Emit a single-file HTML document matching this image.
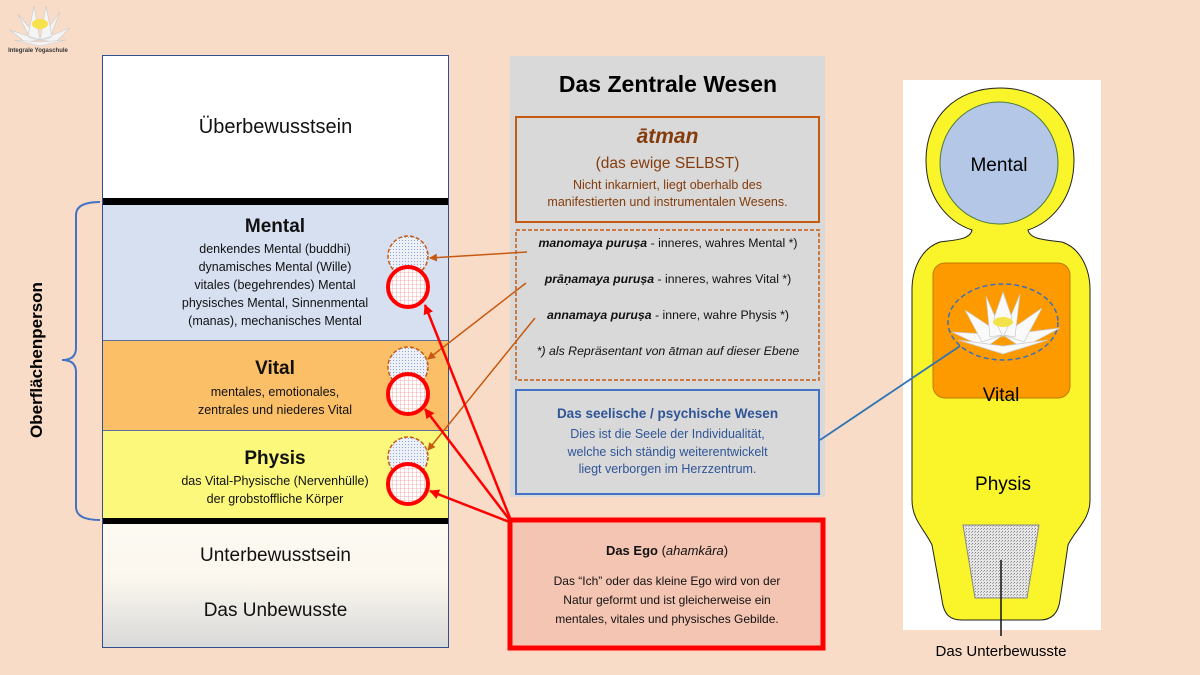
<!DOCTYPE html>
<html><head><meta charset="utf-8"><style>
*{margin:0;padding:0;box-sizing:border-box}
body{width:1200px;height:675px;background:#f9dcc7;position:relative;overflow:hidden;font-family:"Liberation Sans",sans-serif;color:#111}
.a{position:absolute}
.c{text-align:center}
</style></head><body>
<!-- logo -->
<svg class="a" style="left:0;top:0" width="110" height="60">
<g fill="#f4f4f4" stroke="#c9c9c9" stroke-width="0.6">
<path d="M40 40 L10 30 L25 42 Z"/><path d="M40 40 L70 28 L56 42 Z"/>
<path d="M40 40 L18 14 L30 38 Z"/><path d="M40 40 L60 12 L50 38 Z"/>
<path d="M40 40 L34 6 L28 36 Z"/><path d="M40 40 L46 6 L52 36 Z"/>
<path d="M40 42 L14 40 L40 46 L66 40 Z"/>
</g>
<ellipse cx="40" cy="24" rx="8" ry="5" fill="#f6e24a"/>
<text x="38" y="52" font-size="6" text-anchor="middle" font-weight="bold" fill="#333">Integrale Yogaschule</text>
</svg>

<!-- left column -->
<div class="a" style="left:102px;top:55px;width:347px;height:593px;border:1px solid #2f4f8f;background:#fff"></div>
<div class="a c" style="left:103px;top:56px;width:345px;height:142px;background:#fff;font-size:20px;line-height:142px">Überbewusstsein</div>
<div class="a" style="left:103px;top:198px;width:345px;height:7px;background:#000"></div>
<div class="a c" style="left:103px;top:205px;width:345px;height:136px;background:#d7e0f1;border-bottom:1px solid #5a6f9a"></div>
<div class="a c" style="left:103px;top:341px;width:345px;height:90px;background:#fbbf68;border-bottom:1px solid #5a6f9a"></div>
<div class="a c" style="left:103px;top:431px;width:345px;height:87px;background:#fbf87b"></div>
<div class="a" style="left:103px;top:518px;width:345px;height:6px;background:#000"></div>
<div class="a" style="left:103px;top:524px;width:345px;height:123px;background:linear-gradient(#fdfaf3 0%,#fbf7ee 45%,#d9d9d9 100%)"></div>
<div class="a c" style="left:103px;top:545px;width:345px;font-size:19px">Unterbewusstsein</div>
<div class="a c" style="left:103px;top:600px;width:345px;font-size:19px">Das Unbewusste</div>

<div class="a c" style="left:130px;top:216px;width:290px;font-size:19px;font-weight:bold">Mental</div>
<div class="a c" style="left:130px;top:240px;width:290px;font-size:12.5px;line-height:18px">denkendes Mental (buddhi)<br>dynamisches Mental (Wille)<br>vitales (begehrendes) Mental<br>physisches Mental, Sinnenmental<br>(manas), mechanisches Mental</div>
<div class="a c" style="left:130px;top:358px;width:290px;font-size:19px;font-weight:bold">Vital</div>
<div class="a c" style="left:130px;top:383px;width:290px;font-size:12.5px;line-height:18px">mentales, emotionales,<br>zentrales und niederes Vital</div>
<div class="a c" style="left:130px;top:448px;width:290px;font-size:19px;font-weight:bold">Physis</div>
<div class="a c" style="left:130px;top:472px;width:290px;font-size:12.5px;line-height:18px">das Vital-Physische (Nervenhülle)<br>der grobstoffliche Körper</div>

<svg class="a" style="left:0;top:0" width="1200" height="675">
<defs>
<pattern id="g" width="4" height="4" patternUnits="userSpaceOnUse"><rect width="4" height="4" fill="#fff"/><path d="M0 0H4M0 0V4" stroke="#f09a9a" stroke-width="0.8"/></pattern>
<pattern id="d" width="3" height="3" patternUnits="userSpaceOnUse"><rect width="3" height="3" fill="#eef0f8"/><rect width="1" height="1" fill="#8fa5d8"/></pattern>
<pattern id="s" width="3" height="3" patternUnits="userSpaceOnUse"><rect width="3" height="3" fill="#e6e6e6"/><rect width="1" height="1" fill="#888"/><rect x="2" y="1" width="1" height="1" fill="#aaa"/></pattern>
<marker id="ab" markerWidth="8" markerHeight="8" refX="7" refY="4" orient="auto" markerUnits="userSpaceOnUse"><path d="M0 0L8 4L0 8Z" fill="#c55a11"/></marker>
<marker id="ar" markerWidth="10" markerHeight="10" refX="9" refY="5" orient="auto" markerUnits="userSpaceOnUse"><path d="M0 0L10 5L0 10Z" fill="#f00"/></marker>
</defs>
<path d="M100 202 Q76 202 76 215 L76 348 Q76 360 62 360 Q76 360 76 372 L76 507 Q76 520 100 520" fill="none" stroke="#4472c4" stroke-width="2"/>
<text transform="translate(42 360) rotate(-90)" text-anchor="middle" font-size="17" font-weight="bold">Oberflächenperson</text>

<g stroke="#c55a11" stroke-width="1.5" stroke-dasharray="4 2">
<circle cx="408" cy="256" r="20" fill="url(#d)"/>
<circle cx="408" cy="367" r="20" fill="url(#d)"/>
<circle cx="408" cy="457" r="20" fill="url(#d)"/>
</g>
<g stroke="#f00" stroke-width="4">
<circle cx="408" cy="287" r="20" fill="url(#g)"/>
<circle cx="408" cy="394" r="20" fill="url(#g)"/>
<circle cx="408" cy="484" r="20" fill="url(#g)"/>
</g>

<rect x="510" y="56" width="315" height="441" fill="#d9d9d9"/>
<text x="668" y="92" text-anchor="middle" font-size="23" font-weight="bold">Das Zentrale Wesen</text>
<rect x="516" y="117" width="303" height="105" fill="none" stroke="#c55a11" stroke-width="2"/>
<rect x="516" y="230" width="303" height="150" fill="none" stroke="#c55a11" stroke-width="1.5" stroke-dasharray="4 2"/>
<rect x="516" y="390" width="303" height="104" fill="none" stroke="#4472c4" stroke-width="2"/>

<g stroke="#c55a11" stroke-width="1.5" fill="none">
<line x1="527" y1="252" x2="430" y2="258" marker-end="url(#ab)"/>
<line x1="526" y1="283" x2="428" y2="359" marker-end="url(#ab)"/>
<line x1="535" y1="318" x2="428" y2="450" marker-end="url(#ab)"/>
</g>
<g stroke="#f00" stroke-width="2.5" fill="none">
<line x1="512" y1="523" x2="425" y2="305" marker-end="url(#ar)"/>
<line x1="512" y1="523" x2="425" y2="409" marker-end="url(#ar)"/>
<line x1="512" y1="523" x2="430" y2="491" marker-end="url(#ar)"/>
</g>

<rect x="903" y="80" width="198" height="550" fill="#fff"/>
<path d="M1000 88 C1045 88 1074 118 1074 160 C1074 198 1052 222 1028 230 C1030 240 1048 240 1062 242 C1080 248 1090 268 1090 290 L1090 500 C1090 520 1075 530 1068 545 L1060 600 C1058 615 1050 620 1040 620 L962 620 C950 620 944 615 942 600 L932 545 C925 530 912 520 912 500 L912 290 C912 268 922 248 940 242 C954 240 970 240 972 230 C948 222 926 198 926 160 C926 118 955 88 1000 88 Z" fill="#f9f52a" stroke="#222" stroke-width="1"/>
<ellipse cx="999" cy="163" rx="59" ry="61" fill="#b4c7e7" stroke="#4d7a3a" stroke-width="1"/>
<rect x="933" y="263" width="137" height="135" rx="12" fill="#fd9a00" stroke="#c07a00" stroke-width="1"/>
<ellipse cx="1003" cy="322" rx="55" ry="38" fill="none" stroke="#3a6ec0" stroke-width="1.5" stroke-dasharray="5 3"/>
<g fill="#fafafa" stroke="#c9c9c9" stroke-width="0.7">
<path d="M1003 335 L952 332 L985 348 Z"/><path d="M1003 335 L1060 328 L1022 348 Z"/>
<path d="M1003 335 L965 310 L982 342 Z"/><path d="M1003 335 L1042 308 L1024 342 Z"/>
<path d="M1003 335 L986 296 L990 337 Z"/><path d="M1003 335 L1020 294 L1015 337 Z"/>
<path d="M1003 292 L994 318 L1003 337 L1012 318 Z"/>
<path d="M958 340 L1003 354 L1048 340 L1003 346 Z"/>
</g>
<ellipse cx="1003" cy="322" rx="10" ry="5" fill="#f4e24a"/>
<path d="M963 525 L1039 525 L1027 598 L975 598 Z" fill="url(#s)" stroke="#888" stroke-width="1"/>
<line x1="1001" y1="560" x2="1001" y2="636" stroke="#111" stroke-width="1.5"/>
<line x1="820" y1="440" x2="960" y2="346" stroke="#2e75b6" stroke-width="1.8"/>
<text x="999" y="171" text-anchor="middle" font-size="19">Mental</text>
<text x="1001" y="401" text-anchor="middle" font-size="19">Vital</text>
<text x="1003" y="490" text-anchor="middle" font-size="19">Physis</text>
<text x="1001" y="656" text-anchor="middle" font-size="15">Das Unterbewusste</text>

<rect x="510" y="520" width="313" height="128" fill="#f5c5b3" stroke="#f00" stroke-width="5"/>
</svg>

<div class="a c" style="left:516px;top:125px;width:303px;color:#843c0c;font-size:21px;font-weight:bold;font-style:italic">ātman</div>
<div class="a c" style="left:516px;top:155px;width:303px;color:#843c0c;font-size:15.5px">(das ewige SELBST)</div>
<div class="a c" style="left:516px;top:177px;width:303px;color:#843c0c;font-size:12.5px;line-height:17px">Nicht inkarniert, liegt oberhalb des<br>manifestierten und instrumentalen Wesens.</div>

<div class="a c" style="left:518px;top:236px;width:300px;font-size:12.3px"><b><i>manomaya puruṣa</i></b> - inneres, wahres Mental *)</div>
<div class="a c" style="left:518px;top:272px;width:300px;font-size:12.3px"><b><i>prāṇamaya puruṣa</i></b> - inneres, wahres Vital *)</div>
<div class="a c" style="left:518px;top:308px;width:300px;font-size:12.3px"><b><i>annamaya puruṣa</i></b> - innere, wahre Physis *)</div>
<div class="a c" style="left:518px;top:344px;width:300px;font-size:12.3px;font-style:italic">*) als Repräsentant von ātman auf dieser Ebene</div>

<div class="a c" style="left:516px;top:406px;width:303px;color:#2f5597;font-size:13.5px;font-weight:bold">Das seelische / psychische Wesen</div>
<div class="a c" style="left:516px;top:426px;width:303px;color:#2f5597;font-size:12.5px;line-height:17.5px">Dies ist die Seele der Individualität,<br>welche sich ständig weiterentwickelt<br>liegt verborgen im Herzzentrum.</div>

<div class="a c" style="left:512px;top:543px;width:310px;font-size:13px"><b>Das Ego</b> (<i>ahamkāra</i>)</div>
<div class="a c" style="left:512px;top:572px;width:310px;font-size:12px;line-height:19px">Das “Ich” oder das kleine Ego wird von der<br>Natur geformt und ist gleicherweise ein<br>mentales, vitales und physisches Gebilde.</div>
</body></html>
